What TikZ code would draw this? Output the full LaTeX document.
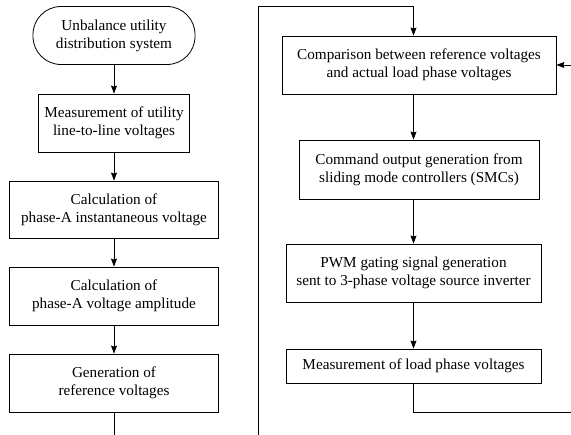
\documentclass[tikz,border=0pt]{standalone}
\usepackage{fontspec}
\setmainfont{Liberation Serif}
\usetikzlibrary{arrows.meta}

\begin{document}
\begin{tikzpicture}[x=1pt,y=-1pt,>={Stealth[length=8pt,width=6pt,inset=1pt]},line width=0.8pt,
      font=\fontsize{15.2}{18}\selectfont,
      blk/.style={draw,align=center,inner sep=2pt},
      term/.style={draw,align=center,rounded corners=28pt,inner sep=2pt}]
    \useasboundingbox (0,0) rectangle (571,435);
    % --- left column ---
    \node[term,minimum width=162pt,minimum height=58pt] (src) at (114,35.5) {Unbalance utility\\distribution system};
    \node[blk,minimum width=151pt,minimum height=58pt] (meas) at (114,123) {Measurement of utility\\line-to-line voltages};
    \node[blk,minimum width=209pt,minimum height=57pt] (inst) at (114,209.5) {Calculation of\\phase-A instantaneous voltage};
    \node[blk,minimum width=209pt,minimum height=58pt] (ampl) at (114,296) {Calculation of\\phase-A voltage amplitude};
    \node[blk,minimum width=209pt,minimum height=58pt] (gen) at (114,383) {Generation of\\reference voltages};
    \draw[->] (src) -- (meas);
    \draw[->] (meas) -- (inst);
    \draw[->] (inst) -- (ampl);
    \draw[->] (ampl) -- (gen);
    \coordinate (outL) at (114,435);
    \draw (gen) -- (outL);
    % --- right column ---
    \node[blk,minimum width=274pt,minimum height=58pt] (comp) at (419,65) {Comparison between reference voltages\\and actual load phase voltages};
    \node[blk,minimum width=240pt,minimum height=59pt] (smc) at (419,169.5) {Command output generation from\\sliding mode controllers (SMCs)};
    \node[blk,minimum width=255pt,minimum height=58pt] (pwm) at (413.5,273) {PWM gating signal generation\\sent to 3-phase voltage source inverter};
    \node[blk,minimum width=255pt,minimum height=34pt] (load) at (413.5,366) {Measurement of load phase voltages};
    \draw[->] (comp.south -| pwm) -- (smc.north -| pwm);
    \draw[->] (smc.south -| pwm) -- (pwm);
    \draw[->] (pwm) -- (load);
    % feedback and link lines
    \coordinate (inL) at (258,435);
    \coordinate (topL) at (258,6);
    \coordinate (fbR) at (571,412);
    \coordinate (inR) at (571,65);
    \draw[->] (inL) -- (topL) -| (comp.north -| pwm);
    \draw (load) |- (fbR);
    \draw[->] (inR) -- (comp.east);
\end{tikzpicture}
\end{document}
